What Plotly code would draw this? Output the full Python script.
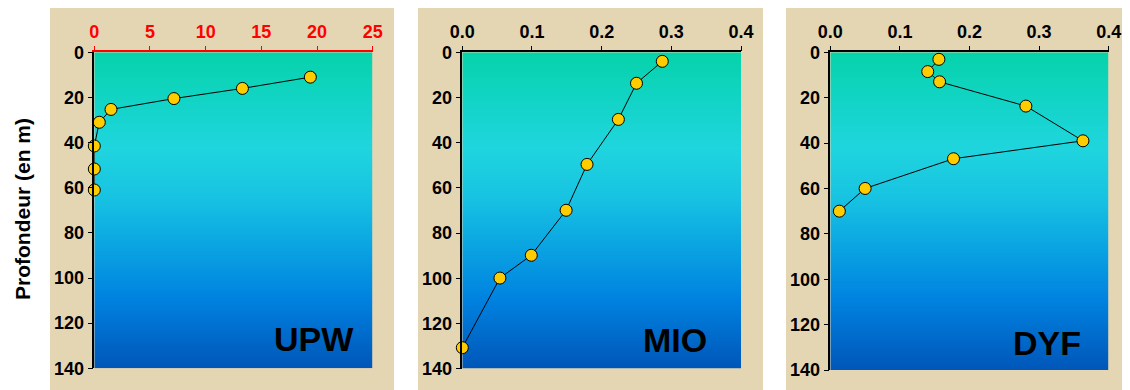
import plotly.graph_objects as go

# ---- data ----
upw_x = [19.4, 13.3, 7.15, 1.5, 0.45, 0.0, 0.0, 0.0]
upw_depth = [11, 16, 20.5, 25.3, 31, 41.5, 51.7, 61]

mio_x = [0.287, 0.250, 0.224, 0.179, 0.149, 0.099, 0.054, 0.0]
mio_depth = [4, 13.7, 29.7, 49.6, 69.9, 89.8, 99.9, 130.7]

dyf_x = [0.156, 0.140, 0.157, 0.281, 0.363, 0.177, 0.050, 0.013]
dyf_depth = [3.1, 8.5, 13.0, 23.7, 39.0, 46.9, 60.0, 70.0]

panel_labels = ["UPW", "MIO", "DYF"]
upw_ticks = [0, 5, 10, 15, 20, 25]
ratio_ticks = [0.0, 0.1, 0.2, 0.3, 0.4]
depth_ticks = [0, 20, 40, 60, 80, 100, 120, 140]
y_title = "Profondeur (en m)"

# page body has an 8px margin: the figure fills the rest of the window
OFF = 8
W, H = 1130 - OFF, 390 - OFF
FONT = "Liberation Sans, Arial, sans-serif"

def px_x(p):
    return (p - OFF) / W

def px_y(p):
    return 1 - (p - OFF) / H

panels = [
    dict(x=upw_x, y=upw_depth, xr=[0, 25], ticks=upw_ticks, fmt="", color="#ff0000",
         dom_x=[94.3, 372.7], dom_y=[52.3, 368.3], lab=(0.79, 0.093)),
    dict(x=mio_x, y=mio_depth, xr=[0, 0.4], ticks=ratio_ticks, fmt=".1f", color="#000000",
         dom_x=[462.3, 741.0], dom_y=[52.3, 368.7], lab=(0.763, 0.091)),
    dict(x=dyf_x, y=dyf_depth, xr=[0, 0.4], ticks=ratio_ticks, fmt=".1f", color="#000000",
         dom_x=[830.3, 1108.7], dom_y=[52.3, 370.0], lab=(0.777, 0.086)),
]

grad = [
    [0.0, "#06d3ab"],
    [0.15, "#12d4c6"],
    [0.30, "#1fd5de"],
    [0.45, "#18c4e2"],
    [0.62, "#0aa3e2"],
    [0.78, "#0082e0"],
    [1.0, "#0056b8"],
]

fig = go.Figure()
layout = dict(
    width=W, height=H,
    margin=dict(l=0, r=0, t=0, b=0, pad=0),
    autosize=False,
    paper_bgcolor="#ffffff",
    plot_bgcolor="rgba(0,0,0,0)",
    showlegend=False,
    font=dict(family=FONT, color="#000000"),
)

shapes = []
annotations = []
beige = [(50, 394), (418, 763), (786, 1130)]
for (a, b) in beige:
    shapes.append(dict(type="rect", xref="paper", yref="paper",
                       x0=px_x(a), x1=px_x(b), y0=0, y1=px_y(8),
                       fillcolor="#e5d6b3", line=dict(width=0), layer="below"))

dys = list(range(0, 141, 2))
for i, p in enumerate(panels):
    n = i + 1
    xa = "x" if n == 1 else f"x{n}"
    ya = "y" if n == 1 else f"y{n}"
    fig.add_trace(go.Heatmap(
        x=p["xr"], y=dys, z=[[d, d] for d in dys],
        colorscale=grad, zmin=0, zmax=140, showscale=False, zsmooth="best",
        hoverinfo="skip", xaxis=xa, yaxis=ya))
    fig.add_trace(go.Scatter(
        x=p["x"], y=p["y"], mode="lines+markers",
        line=dict(color="#000000", width=1),
        marker=dict(size=12, color="#ffcc00", line=dict(color="#000000", width=1)),
        cliponaxis=False, xaxis=xa, yaxis=ya))
    xkey = "xaxis" if n == 1 else f"xaxis{n}"
    ykey = "yaxis" if n == 1 else f"yaxis{n}"
    layout[xkey] = dict(
        domain=[px_x(p["dom_x"][0]), px_x(p["dom_x"][1])],
        range=p["xr"], side="top", anchor=ya, automargin=False,
        tickvals=p["ticks"], tickformat=p["fmt"],
        showgrid=False, zeroline=False,
        showline=True, linecolor=p["color"], linewidth=1.5,
        ticks="outside", ticklen=5, tickcolor=p["color"], tickwidth=1,
        tickfont=dict(family=FONT, size=18, color=p["color"], weight="bold"),
    )
    layout[ykey] = dict(
        domain=[px_y(p["dom_y"][1]), px_y(p["dom_y"][0])],
        range=[140, 0], anchor=xa, automargin=False,
        tickvals=depth_ticks,
        showgrid=False, zeroline=False,
        showline=True, linecolor="#000000", linewidth=1.5,
        ticks="outside", ticklen=5, tickcolor="#000000", tickwidth=1,
        tickfont=dict(family=FONT, size=18, color="#000000", weight="bold"),
    )
    annotations.append(dict(
        text=f"<b>{panel_labels[i]}</b>", xref=f"{xa} domain", yref=f"{ya} domain",
        x=p["lab"][0], y=p["lab"][1], showarrow=False,
        font=dict(family=FONT, size=34, color="#000000"),
        xanchor="center", yanchor="middle"))

annotations.append(dict(
    text=f"<b>{y_title}</b>", xref="paper", yref="paper",
    x=px_x(22), y=px_y(209), showarrow=False, textangle=-90,
    font=dict(family=FONT, size=21, color="#000000"),
    xanchor="center", yanchor="middle"))

layout["shapes"] = shapes
layout["annotations"] = annotations
fig.update_layout(**layout)
fig.write_html("out.html")
